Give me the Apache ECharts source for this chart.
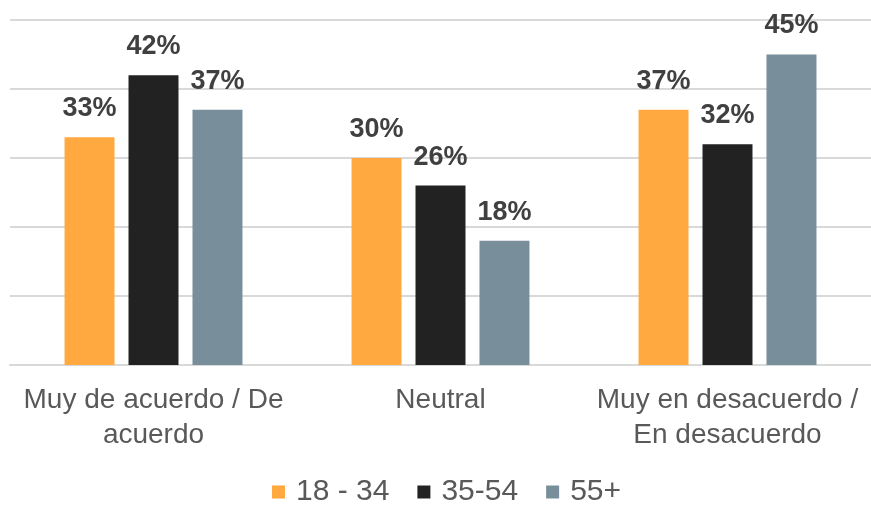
<!DOCTYPE html>
<html>
<head>
<meta charset="utf-8">
<script src="https://cdn.jsdelivr.net/npm/echarts@6/dist/echarts.min.js"></script>
<style>
  html, body { margin: 0; padding: 0; background: #ffffff; }
  #chart { width: 871px; height: 505px; }
</style>
</head>
<body>
<div id="chart"></div>
<script>
// Survey answers by age group (percent of respondents)
const categories = ['Muy de acuerdo / De\nacuerdo', 'Neutral', 'Muy en desacuerdo /\nEn desacuerdo'];
const seriesNames = ['18 - 34', '35-54', '55+'];
const age18to34 = [33, 30, 37];
const age35to54 = [42, 26, 32];
const age55plus = [37, 18, 45];
const seriesColors = ['#FFA940', '#222222', '#788F9B'];

const valueSets = [age18to34, age35to54, age55plus];
const FONT = '"Liberation Sans", Arial, sans-serif';

const chart = echarts.init(document.getElementById('chart'), null, { renderer: 'canvas' });

chart.setOption({
  animation: false,
  textStyle: { fontFamily: FONT },
  grid: { left: 10, right: 0, top: 20, bottom: 140 },
  legend: {
    data: seriesNames,
    top: 477,
    left: 272,
    padding: 0,
    itemWidth: 13,
    itemHeight: 13,
    itemGap: 28,
    icon: 'rect',
    textStyle: { fontFamily: FONT, fontSize: 30, color: '#595959', padding: [0, 0, 0, 6] }
  },
  xAxis: {
    type: 'category',
    data: categories,
    axisLine: { show: true, lineStyle: { color: '#D9D9D9', width: 2 } },
    axisTick: { show: false },
    axisLabel: {
      fontFamily: FONT,
      fontSize: 28,
      color: '#595959',
      margin: 18,
      lineHeight: 35,
      interval: 0
    }
  },
  yAxis: {
    type: 'value',
    min: 0,
    max: 50,
    interval: 10,
    axisLabel: { show: false },
    axisLine: { show: false },
    axisTick: { show: false },
    splitLine: { lineStyle: { color: '#D9D9D9', width: 2 } }
  },
  series: valueSets.map((vals, i) => ({
    name: seriesNames[i],
    type: 'bar',
    data: vals,
    barGap: '28%',
    barCategoryGap: '38%',
    itemStyle: { color: seriesColors[i] },
    label: {
      show: true,
      position: 'top',
      distance: 15,
      formatter: '{c}%',
      fontFamily: FONT,
      fontSize: 27,
      fontWeight: 'bold',
      color: '#404040'
    }
  }))
});
</script>
</body>
</html>
